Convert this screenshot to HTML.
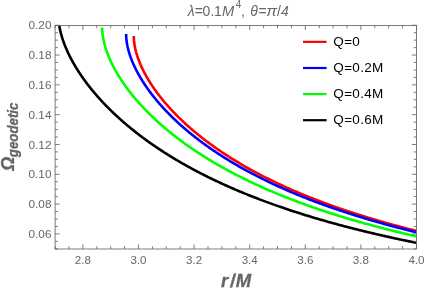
<!DOCTYPE html>
<html><head><meta charset="utf-8"><style>
html,body{margin:0;padding:0;background:#fff;}
body{width:425px;height:291px;overflow:hidden;}
svg{display:block;will-change:transform;font-family:"Liberation Sans",sans-serif;}
</style></head><body>
<svg width="425" height="291" viewBox="0 0 425 291">
<rect x="0" y="0" width="425" height="291" fill="#ffffff"/>
<defs><clipPath id="pc"><rect x="55.10" y="25.45" width="361.40" height="223.55"/></clipPath></defs>
<g clip-path="url(#pc)" fill="none" stroke-width="2.6" stroke-linecap="butt" stroke-linejoin="round">
<path d="M133.79,35.89 L133.79,36.31 L133.79,36.73 L133.80,37.15 L133.82,37.58 L133.83,38.00 L133.85,38.43 L133.87,38.86 L133.90,39.29 L133.93,39.72 L133.96,40.16 L134.00,40.59 L134.04,41.03 L134.09,41.47 L134.14,41.91 L134.19,42.35 L134.24,42.80 L134.30,43.24 L134.36,43.69 L134.43,44.14 L134.50,44.59 L134.57,45.04 L134.65,45.50 L134.73,45.95 L134.81,46.41 L134.90,46.87 L134.99,47.33 L135.08,47.79 L135.18,48.25 L135.28,48.72 L135.39,49.18 L135.49,49.65 L135.61,50.12 L135.72,50.59 L135.84,51.06 L135.96,51.54 L136.09,52.01 L136.22,52.49 L136.35,52.97 L136.49,53.45 L136.63,53.93 L136.77,54.41 L136.92,54.89 L137.07,55.38 L137.23,55.86 L137.38,56.35 L137.54,56.84 L137.71,57.33 L137.88,57.82 L138.05,58.31 L138.23,58.81 L138.41,59.30 L138.59,59.80 L138.78,60.30 L138.97,60.80 L139.16,61.30 L139.36,61.80 L139.56,62.30 L139.76,62.80 L139.97,63.31 L140.18,63.81 L140.40,64.32 L140.61,64.83 L140.84,65.34 L141.06,65.85 L141.29,66.36 L141.52,66.87 L141.76,67.38 L142.00,67.90 L142.24,68.41 L142.49,68.93 L142.74,69.45 L142.99,69.96 L143.25,70.48 L143.51,71.00 L143.78,71.52 L144.04,72.05 L144.32,72.57 L144.59,73.09 L144.87,73.62 L145.15,74.14 L145.44,74.67 L145.73,75.20 L146.02,75.72 L146.32,76.25 L146.62,76.78 L146.92,77.31 L147.23,77.85 L147.54,78.38 L147.85,78.91 L148.17,79.44 L148.49,79.98 L148.82,80.51 L149.15,81.05 L149.48,81.59 L149.81,82.12 L150.15,82.66 L150.50,83.20 L150.84,83.74 L151.19,84.28 L151.55,84.82 L151.90,85.36 L152.26,85.90 L152.63,86.44 L152.99,86.99 L153.37,87.53 L153.74,88.07 L154.12,88.62 L154.50,89.16 L154.89,89.71 L155.27,90.25 L155.67,90.80 L156.06,91.35 L156.46,91.89 L156.87,92.44 L157.27,92.99 L157.68,93.54 L158.10,94.09 L158.51,94.64 L158.93,95.19 L159.36,95.74 L159.79,96.29 L160.22,96.84 L160.65,97.39 L161.09,97.94 L161.53,98.49 L161.98,99.04 L162.43,99.60 L162.88,100.15 L163.34,100.70 L163.80,101.25 L164.26,101.81 L164.73,102.36 L165.20,102.92 L165.67,103.47 L166.15,104.02 L166.63,104.58 L167.12,105.13 L167.61,105.69 L168.10,106.24 L168.59,106.80 L169.09,107.35 L169.59,107.91 L170.10,108.46 L170.61,109.02 L171.12,109.57 L171.64,110.13 L172.16,110.68 L172.68,111.24 L173.21,111.80 L173.74,112.35 L174.28,112.91 L174.82,113.46 L175.36,114.02 L175.90,114.57 L176.45,115.13 L177.00,115.68 L177.56,116.24 L178.12,116.80 L178.68,117.35 L179.25,117.91 L179.82,118.46 L180.39,119.02 L180.97,119.57 L181.55,120.13 L182.13,120.68 L182.72,121.24 L183.31,121.79 L183.91,122.34 L184.51,122.90 L185.11,123.45 L185.71,124.00 L186.32,124.56 L186.94,125.11 L187.55,125.66 L188.17,126.22 L188.80,126.77 L189.42,127.32 L190.05,127.87 L190.69,128.42 L191.32,128.98 L191.96,129.53 L192.61,130.08 L193.26,130.63 L193.91,131.18 L194.56,131.73 L195.22,132.28 L195.89,132.82 L196.55,133.37 L197.22,133.92 L197.89,134.47 L198.57,135.02 L199.25,135.56 L199.93,136.11 L200.62,136.66 L201.31,137.20 L202.01,137.75 L202.71,138.29 L203.41,138.84 L204.11,139.38 L204.82,139.92 L205.53,140.47 L206.25,141.01 L206.97,141.55 L207.69,142.09 L208.42,142.63 L209.15,143.17 L209.88,143.71 L210.62,144.25 L211.36,144.79 L212.10,145.33 L212.85,145.87 L213.60,146.40 L214.35,146.94 L215.11,147.47 L215.87,148.01 L216.64,148.54 L217.41,149.08 L218.18,149.61 L218.96,150.14 L219.74,150.68 L220.52,151.21 L221.31,151.74 L222.10,152.27 L222.89,152.80 L223.69,153.33 L224.49,153.85 L225.29,154.38 L226.10,154.91 L226.91,155.43 L227.73,155.96 L228.55,156.48 L229.37,157.01 L230.19,157.53 L231.02,158.05 L231.86,158.57 L232.69,159.10 L233.53,159.62 L234.38,160.13 L235.22,160.65 L236.07,161.17 L236.93,161.69 L237.79,162.20 L238.65,162.72 L239.51,163.23 L240.38,163.75 L241.25,164.26 L242.13,164.77 L243.01,165.28 L243.89,165.80 L244.78,166.30 L245.67,166.81 L246.56,167.32 L247.46,167.83 L248.36,168.34 L249.26,168.84 L250.17,169.35 L251.08,169.85 L251.99,170.35 L252.91,170.85 L253.83,171.35 L254.76,171.85 L255.69,172.35 L256.62,172.85 L257.55,173.35 L258.49,173.85 L259.44,174.34 L260.38,174.84 L261.33,175.33 L262.29,175.82 L263.24,176.32 L264.21,176.81 L265.17,177.30 L266.14,177.79 L267.11,178.27 L268.08,178.76 L269.06,179.25 L270.04,179.73 L271.03,180.22 L272.02,180.70 L273.01,181.18 L274.01,181.66 L275.01,182.14 L276.01,182.62 L277.02,183.10 L278.03,183.58 L279.04,184.06 L280.06,184.53 L281.08,185.01 L282.11,185.48 L283.13,185.95 L284.17,186.42 L285.20,186.89 L286.24,187.36 L287.28,187.83 L288.33,188.30 L289.38,188.76 L290.43,189.23 L291.49,189.69 L292.55,190.16 L293.61,190.62 L294.68,191.08 L295.75,191.54 L296.82,192.00 L297.90,192.46 L298.98,192.91 L300.07,193.37 L301.16,193.82 L302.25,194.28 L303.34,194.73 L304.44,195.18 L305.55,195.63 L306.65,196.08 L307.76,196.53 L308.88,196.98 L309.99,197.42 L311.11,197.87 L312.24,198.31 L313.37,198.75 L314.50,199.20 L315.63,199.64 L316.77,200.08 L317.91,200.51 L319.06,200.95 L320.21,201.39 L321.36,201.82 L322.51,202.26 L323.67,202.69 L324.84,203.12 L326.00,203.55 L327.17,203.98 L328.35,204.41 L329.53,204.84 L330.71,205.26 L331.89,205.69 L333.08,206.11 L334.27,206.54 L335.47,206.96 L336.66,207.38 L337.87,207.80 L339.07,208.22 L340.28,208.63 L341.49,209.05 L342.71,209.47 L343.93,209.88 L345.15,210.29 L346.38,210.71 L347.61,211.12 L348.85,211.53 L350.08,211.93 L351.33,212.34 L352.57,212.75 L353.82,213.15 L355.07,213.56 L356.33,213.96 L357.59,214.36 L358.85,214.76 L360.11,215.16 L361.38,215.56 L362.66,215.96 L363.93,216.35 L365.21,216.75 L366.50,217.14 L367.79,217.53 L369.08,217.92 L370.37,218.31 L371.67,218.70 L372.97,219.09 L374.28,219.48 L375.59,219.86 L376.90,220.25 L378.21,220.63 L379.53,221.02 L380.86,221.40 L382.18,221.78 L383.51,222.16 L384.85,222.53 L386.18,222.91 L387.52,223.29 L388.87,223.66 L390.22,224.03 L391.57,224.41 L392.92,224.78 L394.28,225.15 L395.64,225.52 L397.01,225.88 L398.38,226.25 L399.75,226.62 L401.13,226.98 L402.51,227.34 L403.89,227.71 L405.28,228.07 L406.67,228.43 L408.06,228.79 L409.46,229.14 L410.86,229.50 L412.26,229.86 L413.67,230.21 L415.08,230.56 L416.50,230.92" stroke="#ff0000"/>
<path d="M126.13,33.91 L126.13,34.34 L126.14,34.77 L126.15,35.20 L126.16,35.63 L126.17,36.06 L126.19,36.50 L126.22,36.94 L126.25,37.38 L126.28,37.82 L126.31,38.26 L126.35,38.71 L126.39,39.15 L126.44,39.60 L126.49,40.05 L126.54,40.50 L126.60,40.96 L126.66,41.41 L126.72,41.87 L126.79,42.33 L126.86,42.79 L126.93,43.25 L127.01,43.72 L127.09,44.18 L127.18,44.65 L127.27,45.12 L127.36,45.59 L127.46,46.06 L127.56,46.53 L127.66,47.01 L127.77,47.48 L127.88,47.96 L128.00,48.44 L128.12,48.92 L128.24,49.41 L128.36,49.89 L128.49,50.38 L128.63,50.86 L128.76,51.35 L128.90,51.84 L129.05,52.33 L129.20,52.83 L129.35,53.32 L129.50,53.81 L129.66,54.31 L129.82,54.81 L129.99,55.31 L130.16,55.81 L130.33,56.31 L130.51,56.82 L130.69,57.32 L130.87,57.83 L131.06,58.34 L131.25,58.84 L131.45,59.35 L131.65,59.87 L131.85,60.38 L132.06,60.89 L132.26,61.41 L132.48,61.92 L132.70,62.44 L132.92,62.96 L133.14,63.48 L133.37,64.00 L133.60,64.52 L133.84,65.04 L134.07,65.57 L134.32,66.09 L134.56,66.62 L134.81,67.14 L135.07,67.67 L135.32,68.20 L135.58,68.73 L135.85,69.26 L136.12,69.79 L136.39,70.33 L136.66,70.86 L136.94,71.40 L137.23,71.93 L137.51,72.47 L137.80,73.01 L138.10,73.54 L138.39,74.08 L138.69,74.62 L139.00,75.17 L139.31,75.71 L139.62,76.25 L139.93,76.79 L140.25,77.34 L140.58,77.88 L140.90,78.43 L141.23,78.97 L141.57,79.52 L141.90,80.07 L142.25,80.62 L142.59,81.17 L142.94,81.72 L143.29,82.27 L143.65,82.82 L144.01,83.37 L144.37,83.93 L144.74,84.48 L145.11,85.03 L145.48,85.59 L145.86,86.14 L146.24,86.70 L146.62,87.25 L147.01,87.81 L147.40,88.37 L147.80,88.92 L148.20,89.48 L148.60,90.04 L149.01,90.60 L149.42,91.16 L149.83,91.72 L150.25,92.28 L150.67,92.84 L151.10,93.40 L151.53,93.96 L151.96,94.53 L152.39,95.09 L152.83,95.65 L153.28,96.22 L153.72,96.78 L154.17,97.34 L154.63,97.91 L155.09,98.47 L155.55,99.04 L156.01,99.60 L156.48,100.17 L156.95,100.73 L157.43,101.30 L157.91,101.86 L158.39,102.43 L158.88,102.99 L159.37,103.56 L159.86,104.13 L160.36,104.69 L160.86,105.26 L161.37,105.83 L161.88,106.39 L162.39,106.96 L162.91,107.53 L163.43,108.10 L163.95,108.66 L164.48,109.23 L165.01,109.80 L165.54,110.37 L166.08,110.93 L166.62,111.50 L167.17,112.07 L167.72,112.64 L168.27,113.20 L168.83,113.77 L169.39,114.34 L169.95,114.91 L170.52,115.47 L171.09,116.04 L171.66,116.61 L172.24,117.18 L172.82,117.74 L173.41,118.31 L174.00,118.88 L174.59,119.44 L175.19,120.01 L175.79,120.57 L176.39,121.14 L177.00,121.71 L177.61,122.27 L178.22,122.84 L178.84,123.40 L179.46,123.97 L180.09,124.53 L180.72,125.10 L181.35,125.66 L181.99,126.22 L182.63,126.79 L183.27,127.35 L183.92,127.91 L184.57,128.48 L185.22,129.04 L185.88,129.60 L186.54,130.16 L187.21,130.72 L187.88,131.28 L188.55,131.84 L189.23,132.40 L189.91,132.96 L190.59,133.52 L191.28,134.08 L191.97,134.64 L192.67,135.20 L193.37,135.76 L194.07,136.31 L194.77,136.87 L195.48,137.43 L196.20,137.98 L196.91,138.54 L197.63,139.09 L198.36,139.65 L199.09,140.20 L199.82,140.75 L200.55,141.30 L201.29,141.86 L202.03,142.41 L202.78,142.96 L203.53,143.51 L204.28,144.06 L205.04,144.61 L205.80,145.16 L206.56,145.70 L207.33,146.25 L208.10,146.80 L208.88,147.34 L209.66,147.89 L210.44,148.44 L211.23,148.98 L212.02,149.52 L212.81,150.07 L213.61,150.61 L214.41,151.15 L215.21,151.69 L216.02,152.23 L216.83,152.77 L217.65,153.31 L218.47,153.85 L219.29,154.38 L220.11,154.92 L220.94,155.46 L221.78,155.99 L222.61,156.52 L223.46,157.06 L224.30,157.59 L225.15,158.12 L226.00,158.65 L226.86,159.18 L227.71,159.71 L228.58,160.24 L229.44,160.77 L230.31,161.30 L231.19,161.82 L232.06,162.35 L232.95,162.87 L233.83,163.40 L234.72,163.92 L235.61,164.44 L236.51,164.96 L237.41,165.48 L238.31,166.00 L239.21,166.52 L240.12,167.04 L241.04,167.56 L241.96,168.07 L242.88,168.59 L243.80,169.10 L244.73,169.61 L245.66,170.13 L246.60,170.64 L247.54,171.15 L248.48,171.66 L249.43,172.17 L250.38,172.67 L251.33,173.18 L252.29,173.69 L253.25,174.19 L254.21,174.69 L255.18,175.20 L256.16,175.70 L257.13,176.20 L258.11,176.70 L259.09,177.20 L260.08,177.70 L261.07,178.19 L262.06,178.69 L263.06,179.18 L264.06,179.68 L265.07,180.17 L266.08,180.66 L267.09,181.15 L268.11,181.64 L269.13,182.13 L270.15,182.62 L271.18,183.11 L272.21,183.59 L273.24,184.08 L274.28,184.56 L275.32,185.04 L276.36,185.53 L277.41,186.01 L278.47,186.49 L279.52,186.96 L280.58,187.44 L281.64,187.92 L282.71,188.39 L283.78,188.87 L284.86,189.34 L285.93,189.81 L287.02,190.28 L288.10,190.75 L289.19,191.22 L290.28,191.69 L291.38,192.15 L292.48,192.62 L293.58,193.08 L294.69,193.55 L295.80,194.01 L296.91,194.47 L298.03,194.93 L299.15,195.39 L300.28,195.85 L301.41,196.30 L302.54,196.76 L303.68,197.21 L304.82,197.66 L305.96,198.12 L307.11,198.57 L308.26,199.02 L309.41,199.47 L310.57,199.91 L311.73,200.36 L312.90,200.80 L314.07,201.25 L315.24,201.69 L316.42,202.13 L317.60,202.57 L318.78,203.01 L319.97,203.45 L321.16,203.89 L322.35,204.32 L323.55,204.76 L324.75,205.19 L325.96,205.63 L327.17,206.06 L328.38,206.49 L329.60,206.92 L330.82,207.34 L332.04,207.77 L333.27,208.20 L334.50,208.62 L335.74,209.04 L336.98,209.47 L338.22,209.89 L339.46,210.31 L340.71,210.72 L341.97,211.14 L343.22,211.56 L344.48,211.97 L345.75,212.39 L347.01,212.80 L348.29,213.21 L349.56,213.62 L350.84,214.03 L352.12,214.44 L353.41,214.85 L354.70,215.25 L355.99,215.66 L357.29,216.06 L358.59,216.46 L359.89,216.86 L361.20,217.26 L362.51,217.66 L363.83,218.06 L365.14,218.46 L366.47,218.85 L367.79,219.24 L369.12,219.64 L370.46,220.03 L371.79,220.42 L373.13,220.81 L374.48,221.20 L375.82,221.58 L377.18,221.97 L378.53,222.35 L379.89,222.74 L381.25,223.12 L382.62,223.50 L383.99,223.88 L385.36,224.26 L386.74,224.64 L388.12,225.01 L389.50,225.39 L390.89,225.76 L392.28,226.14 L393.68,226.51 L395.08,226.88 L396.48,227.25 L397.89,227.62 L399.30,227.98 L400.71,228.35 L402.13,228.71 L403.55,229.08 L404.97,229.44 L406.40,229.80 L407.83,230.16 L409.27,230.52 L410.71,230.88 L412.15,231.24 L413.60,231.59 L415.05,231.95 L416.50,232.30" stroke="#0000ff"/>
<path d="M102.20,27.59 L102.20,28.04 L102.21,28.49 L102.22,28.95 L102.23,29.41 L102.25,29.87 L102.27,30.33 L102.30,30.80 L102.33,31.27 L102.36,31.74 L102.40,32.21 L102.44,32.68 L102.49,33.15 L102.54,33.63 L102.59,34.11 L102.65,34.59 L102.71,35.08 L102.77,35.56 L102.84,36.05 L102.92,36.54 L102.99,37.03 L103.07,37.52 L103.16,38.01 L103.25,38.51 L103.34,39.01 L103.44,39.51 L103.54,40.01 L103.64,40.51 L103.75,41.02 L103.86,41.52 L103.98,42.03 L104.10,42.54 L104.22,43.05 L104.35,43.57 L104.48,44.08 L104.62,44.60 L104.76,45.12 L104.91,45.64 L105.05,46.16 L105.21,46.68 L105.36,47.21 L105.52,47.73 L105.68,48.26 L105.85,48.79 L106.02,49.32 L106.20,49.85 L106.38,50.39 L106.56,50.92 L106.75,51.46 L106.94,52.00 L107.14,52.54 L107.34,53.08 L107.54,53.62 L107.75,54.17 L107.96,54.71 L108.17,55.26 L108.39,55.81 L108.62,56.36 L108.84,56.91 L109.07,57.46 L109.31,58.01 L109.55,58.57 L109.79,59.12 L110.04,59.68 L110.29,60.24 L110.54,60.80 L110.80,61.36 L111.06,61.92 L111.33,62.48 L111.60,63.05 L111.88,63.61 L112.15,64.18 L112.44,64.74 L112.72,65.31 L113.01,65.88 L113.31,66.45 L113.61,67.02 L113.91,67.60 L114.21,68.17 L114.52,68.74 L114.84,69.32 L115.16,69.90 L115.48,70.47 L115.80,71.05 L116.13,71.63 L116.47,72.21 L116.80,72.79 L117.15,73.37 L117.49,73.95 L117.84,74.54 L118.19,75.12 L118.55,75.71 L118.91,76.29 L119.28,76.88 L119.65,77.47 L120.02,78.05 L120.40,78.64 L120.78,79.23 L121.16,79.82 L121.55,80.41 L121.94,81.00 L122.34,81.60 L122.74,82.19 L123.15,82.78 L123.56,83.37 L123.97,83.97 L124.38,84.56 L124.81,85.16 L125.23,85.75 L125.66,86.35 L126.09,86.95 L126.53,87.55 L126.97,88.14 L127.41,88.74 L127.86,89.34 L128.31,89.94 L128.77,90.54 L129.23,91.14 L129.69,91.74 L130.16,92.34 L130.63,92.94 L131.11,93.54 L131.59,94.14 L132.07,94.75 L132.56,95.35 L133.05,95.95 L133.55,96.55 L134.04,97.16 L134.55,97.76 L135.06,98.36 L135.57,98.97 L136.08,99.57 L136.60,100.17 L137.12,100.78 L137.65,101.38 L138.18,101.99 L138.72,102.59 L139.26,103.20 L139.80,103.80 L140.35,104.41 L140.90,105.01 L141.45,105.62 L142.01,106.22 L142.57,106.83 L143.14,107.43 L143.71,108.04 L144.28,108.64 L144.86,109.25 L145.45,109.85 L146.03,110.46 L146.62,111.06 L147.22,111.66 L147.81,112.27 L148.42,112.87 L149.02,113.48 L149.63,114.08 L150.25,114.69 L150.86,115.29 L151.49,115.89 L152.11,116.50 L152.74,117.10 L153.38,117.70 L154.01,118.31 L154.66,118.91 L155.30,119.51 L155.95,120.11 L156.60,120.72 L157.26,121.32 L157.92,121.92 L158.59,122.52 L159.26,123.12 L159.93,123.72 L160.61,124.32 L161.29,124.92 L161.97,125.52 L162.66,126.12 L163.36,126.71 L164.05,127.31 L164.75,127.91 L165.46,128.51 L166.17,129.10 L166.88,129.70 L167.60,130.30 L168.32,130.89 L169.04,131.49 L169.77,132.08 L170.50,132.67 L171.24,133.27 L171.98,133.86 L172.72,134.45 L173.47,135.04 L174.22,135.63 L174.98,136.22 L175.74,136.81 L176.50,137.40 L177.27,137.99 L178.04,138.58 L178.82,139.17 L179.60,139.76 L180.38,140.34 L181.17,140.93 L181.96,141.51 L182.76,142.10 L183.56,142.68 L184.36,143.26 L185.17,143.84 L185.98,144.43 L186.80,145.01 L187.61,145.59 L188.44,146.17 L189.27,146.74 L190.10,147.32 L190.93,147.90 L191.77,148.47 L192.61,149.05 L193.46,149.62 L194.31,150.20 L195.17,150.77 L196.03,151.34 L196.89,151.91 L197.75,152.49 L198.63,153.05 L199.50,153.62 L200.38,154.19 L201.26,154.76 L202.15,155.33 L203.04,155.89 L203.93,156.45 L204.83,157.02 L205.73,157.58 L206.64,158.14 L207.55,158.70 L208.46,159.26 L209.38,159.82 L210.30,160.38 L211.23,160.94 L212.16,161.49 L213.09,162.05 L214.03,162.60 L214.97,163.16 L215.92,163.71 L216.87,164.26 L217.82,164.81 L218.78,165.36 L219.74,165.91 L220.70,166.45 L221.67,167.00 L222.65,167.55 L223.62,168.09 L224.61,168.63 L225.59,169.18 L226.58,169.72 L227.57,170.26 L228.57,170.80 L229.57,171.33 L230.58,171.87 L231.58,172.41 L232.60,172.94 L233.61,173.47 L234.63,174.01 L235.66,174.54 L236.69,175.07 L237.72,175.60 L238.76,176.12 L239.80,176.65 L240.84,177.18 L241.89,177.70 L242.94,178.23 L244.00,178.75 L245.06,179.27 L246.12,179.79 L247.19,180.31 L248.26,180.83 L249.34,181.34 L250.42,181.86 L251.50,182.37 L252.59,182.88 L253.68,183.40 L254.78,183.91 L255.88,184.42 L256.98,184.92 L258.09,185.43 L259.20,185.94 L260.32,186.44 L261.43,186.95 L262.56,187.45 L263.69,187.95 L264.82,188.45 L265.95,188.95 L267.09,189.45 L268.23,189.94 L269.38,190.44 L270.53,190.93 L271.69,191.42 L272.85,191.91 L274.01,192.40 L275.18,192.89 L276.35,193.38 L277.52,193.87 L278.70,194.35 L279.88,194.84 L281.07,195.32 L282.26,195.80 L283.45,196.28 L284.65,196.76 L285.85,197.24 L287.06,197.71 L288.27,198.19 L289.48,198.66 L290.70,199.13 L291.92,199.61 L293.15,200.08 L294.38,200.54 L295.61,201.01 L296.85,201.48 L298.09,201.94 L299.34,202.41 L300.59,202.87 L301.84,203.33 L303.10,203.79 L304.36,204.25 L305.63,204.70 L306.90,205.16 L308.17,205.61 L309.45,206.07 L310.73,206.52 L312.01,206.97 L313.30,207.42 L314.60,207.87 L315.89,208.31 L317.19,208.76 L318.50,209.20 L319.81,209.65 L321.12,210.09 L322.44,210.53 L323.76,210.97 L325.08,211.40 L326.41,211.84 L327.75,212.28 L329.08,212.71 L330.42,213.14 L331.77,213.57 L333.11,214.00 L334.47,214.43 L335.82,214.86 L337.18,215.28 L338.55,215.71 L339.92,216.13 L341.29,216.55 L342.66,216.97 L344.04,217.39 L345.43,217.81 L346.82,218.23 L348.21,218.64 L349.60,219.06 L351.00,219.47 L352.41,219.88 L353.81,220.29 L355.23,220.70 L356.64,221.11 L358.06,221.52 L359.48,221.92 L360.91,222.32 L362.34,222.73 L363.78,223.13 L365.22,223.53 L366.66,223.93 L368.11,224.32 L369.56,224.72 L371.01,225.11 L372.47,225.51 L373.94,225.90 L375.40,226.29 L376.87,226.68 L378.35,227.07 L379.83,227.45 L381.31,227.84 L382.80,228.22 L384.29,228.61 L385.78,228.99 L387.28,229.37 L388.78,229.75 L390.29,230.13 L391.80,230.50 L393.31,230.88 L394.83,231.25 L396.35,231.62 L397.88,232.00 L399.41,232.37 L400.94,232.74 L402.48,233.10 L404.02,233.47 L405.57,233.83 L407.12,234.20 L408.67,234.56 L410.23,234.92 L411.79,235.28 L413.36,235.64 L414.93,236.00 L416.50,236.35" stroke="#00ff00"/>
<path d="M59.25,25.45 L59.32,25.91 L59.41,26.46 L59.51,27.01 L59.61,27.56 L59.72,28.12 L59.83,28.67 L59.94,29.23 L60.06,29.79 L60.18,30.35 L60.31,30.92 L60.45,31.48 L60.58,32.05 L60.72,32.62 L60.87,33.20 L61.02,33.77 L61.18,34.35 L61.34,34.93 L61.50,35.51 L61.67,36.09 L61.84,36.67 L62.02,37.26 L62.20,37.85 L62.39,38.44 L62.58,39.03 L62.78,39.62 L62.98,40.22 L63.18,40.81 L63.39,41.41 L63.60,42.01 L63.82,42.62 L64.04,43.22 L64.27,43.83 L64.50,44.43 L64.74,45.04 L64.98,45.65 L65.23,46.26 L65.47,46.88 L65.73,47.49 L65.99,48.11 L66.25,48.73 L66.52,49.35 L66.79,49.97 L67.07,50.59 L67.35,51.21 L67.63,51.84 L67.92,52.46 L68.22,53.09 L68.52,53.72 L68.82,54.35 L69.13,54.98 L69.44,55.62 L69.76,56.25 L70.08,56.89 L70.41,57.52 L70.74,58.16 L71.07,58.80 L71.41,59.44 L71.76,60.08 L72.11,60.72 L72.46,61.37 L72.82,62.01 L73.18,62.66 L73.54,63.31 L73.92,63.95 L74.29,64.60 L74.67,65.25 L75.06,65.90 L75.45,66.56 L75.84,67.21 L76.24,67.86 L76.64,68.52 L77.05,69.17 L77.46,69.83 L77.87,70.48 L78.30,71.14 L78.72,71.80 L79.15,72.46 L79.58,73.12 L80.02,73.78 L80.47,74.44 L80.91,75.11 L81.37,75.77 L81.82,76.43 L82.28,77.10 L82.75,77.76 L83.22,78.43 L83.69,79.09 L84.17,79.76 L84.66,80.43 L85.14,81.09 L85.64,81.76 L86.13,82.43 L86.64,83.10 L87.14,83.77 L87.65,84.44 L88.17,85.11 L88.69,85.78 L89.21,86.45 L89.74,87.12 L90.27,87.79 L90.81,88.46 L91.35,89.14 L91.90,89.81 L92.45,90.48 L93.01,91.15 L93.57,91.83 L94.13,92.50 L94.70,93.17 L95.27,93.85 L95.85,94.52 L96.43,95.19 L97.02,95.87 L97.61,96.54 L98.21,97.22 L98.81,97.89 L99.41,98.57 L100.02,99.24 L100.64,99.91 L101.26,100.59 L101.88,101.26 L102.51,101.94 L103.14,102.61 L103.77,103.28 L104.42,103.96 L105.06,104.63 L105.71,105.31 L106.37,105.98 L107.02,106.65 L107.69,107.33 L108.36,108.00 L109.03,108.67 L109.71,109.34 L110.39,110.02 L111.07,110.69 L111.76,111.36 L112.46,112.03 L113.16,112.70 L113.86,113.37 L114.57,114.04 L115.28,114.71 L116.00,115.38 L116.72,116.05 L117.45,116.72 L118.18,117.39 L118.92,118.06 L119.66,118.72 L120.40,119.39 L121.15,120.06 L121.90,120.72 L122.66,121.39 L123.42,122.05 L124.19,122.72 L124.96,123.38 L125.74,124.05 L126.52,124.71 L127.30,125.37 L128.09,126.03 L128.89,126.69 L129.69,127.35 L130.49,128.01 L131.30,128.67 L132.11,129.33 L132.92,129.99 L133.75,130.64 L134.57,131.30 L135.40,131.95 L136.24,132.61 L137.07,133.26 L137.92,133.92 L138.77,134.57 L139.62,135.22 L140.48,135.87 L141.34,136.52 L142.20,137.17 L143.07,137.82 L143.95,138.47 L144.83,139.11 L145.71,139.76 L146.60,140.40 L147.49,141.05 L148.39,141.69 L149.29,142.33 L150.20,142.97 L151.11,143.61 L152.02,144.25 L152.94,144.89 L153.87,145.53 L154.80,146.16 L155.73,146.80 L156.67,147.43 L157.61,148.06 L158.56,148.70 L159.51,149.33 L160.47,149.96 L161.43,150.59 L162.39,151.21 L163.36,151.84 L164.33,152.47 L165.31,153.09 L166.30,153.71 L167.28,154.34 L168.28,154.96 L169.27,155.58 L170.27,156.20 L171.28,156.81 L172.29,157.43 L173.30,158.05 L174.32,158.66 L175.34,159.27 L176.37,159.89 L177.41,160.50 L178.44,161.11 L179.48,161.71 L180.53,162.32 L181.58,162.93 L182.63,163.53 L183.69,164.13 L184.76,164.74 L185.83,165.34 L186.90,165.94 L187.98,166.53 L189.06,167.13 L190.14,167.73 L191.24,168.32 L192.33,168.91 L193.43,169.51 L194.54,170.10 L195.64,170.68 L196.76,171.27 L197.88,171.86 L199.00,172.44 L200.12,173.03 L201.26,173.61 L202.39,174.19 L203.53,174.77 L204.68,175.35 L205.83,175.92 L206.98,176.50 L208.14,177.07 L209.30,177.65 L210.47,178.22 L211.64,178.79 L212.82,179.35 L214.00,179.92 L215.18,180.49 L216.37,181.05 L217.57,181.61 L218.77,182.17 L219.97,182.73 L221.18,183.29 L222.39,183.85 L223.61,184.40 L224.83,184.96 L226.05,185.51 L227.28,186.06 L228.52,186.61 L229.76,187.16 L231.00,187.70 L232.25,188.25 L233.50,188.79 L234.76,189.33 L236.02,189.87 L237.29,190.41 L238.56,190.95 L239.83,191.49 L241.11,192.02 L242.40,192.55 L243.69,193.09 L244.98,193.62 L246.28,194.14 L247.58,194.67 L248.89,195.20 L250.20,195.72 L251.51,196.24 L252.84,196.76 L254.16,197.28 L255.49,197.80 L256.82,198.32 L258.16,198.83 L259.50,199.34 L260.85,199.85 L262.20,200.36 L263.56,200.87 L264.92,201.38 L266.29,201.89 L267.66,202.39 L269.03,202.89 L270.41,203.39 L271.79,203.89 L273.18,204.39 L274.57,204.88 L275.97,205.38 L277.37,205.87 L278.78,206.36 L280.19,206.85 L281.60,207.34 L283.02,207.83 L284.44,208.31 L285.87,208.80 L287.30,209.28 L288.74,209.76 L290.18,210.24 L291.63,210.71 L293.08,211.19 L294.54,211.66 L296.00,212.14 L297.46,212.61 L298.93,213.08 L300.40,213.54 L301.88,214.01 L303.36,214.48 L304.85,214.94 L306.34,215.40 L307.84,215.86 L309.34,216.32 L310.84,216.77 L312.35,217.23 L313.86,217.68 L315.38,218.14 L316.90,218.59 L318.43,219.04 L319.96,219.48 L321.50,219.93 L323.04,220.37 L324.59,220.82 L326.14,221.26 L327.69,221.70 L329.25,222.14 L330.81,222.57 L332.38,223.01 L333.95,223.44 L335.53,223.87 L337.11,224.30 L338.69,224.73 L340.29,225.16 L341.88,225.58 L343.48,226.01 L345.08,226.43 L346.69,226.85 L348.30,227.27 L349.92,227.69 L351.54,228.11 L353.17,228.52 L354.80,228.94 L356.43,229.35 L358.07,229.76 L359.72,230.17 L361.37,230.57 L363.02,230.98 L364.68,231.38 L366.34,231.79 L368.01,232.19 L369.68,232.59 L371.35,232.99 L373.03,233.38 L374.72,233.78 L376.41,234.17 L378.10,234.57 L379.80,234.96 L381.50,235.35 L383.21,235.73 L384.92,236.12 L386.64,236.50 L388.36,236.89 L390.08,237.27 L391.81,237.65 L393.55,238.03 L395.29,238.41 L397.03,238.78 L398.78,239.16 L400.53,239.53 L402.28,239.90 L404.05,240.27 L405.81,240.64 L407.58,241.01 L409.36,241.37 L411.14,241.74 L412.92,242.10 L414.71,242.46 L416.50,242.82" stroke="#000000"/>
</g>
<g stroke="#666666" stroke-width="0.85" fill="none">
<rect x="55.10" y="25.45" width="361.40" height="223.55"/>
<path d="M55.10,249.00v-2.80 M55.10,25.45v2.80"/>
<path d="M69.00,249.00v-2.80 M69.00,25.45v2.80"/>
<path d="M82.90,249.00v-4.60 M82.90,25.45v4.60"/>
<path d="M96.80,249.00v-2.80 M96.80,25.45v2.80"/>
<path d="M110.70,249.00v-2.80 M110.70,25.45v2.80"/>
<path d="M124.60,249.00v-2.80 M124.60,25.45v2.80"/>
<path d="M138.50,249.00v-4.60 M138.50,25.45v4.60"/>
<path d="M152.40,249.00v-2.80 M152.40,25.45v2.80"/>
<path d="M166.30,249.00v-2.80 M166.30,25.45v2.80"/>
<path d="M180.20,249.00v-2.80 M180.20,25.45v2.80"/>
<path d="M194.10,249.00v-4.60 M194.10,25.45v4.60"/>
<path d="M208.00,249.00v-2.80 M208.00,25.45v2.80"/>
<path d="M221.90,249.00v-2.80 M221.90,25.45v2.80"/>
<path d="M235.80,249.00v-2.80 M235.80,25.45v2.80"/>
<path d="M249.70,249.00v-4.60 M249.70,25.45v4.60"/>
<path d="M263.60,249.00v-2.80 M263.60,25.45v2.80"/>
<path d="M277.50,249.00v-2.80 M277.50,25.45v2.80"/>
<path d="M291.40,249.00v-2.80 M291.40,25.45v2.80"/>
<path d="M305.30,249.00v-4.60 M305.30,25.45v4.60"/>
<path d="M319.20,249.00v-2.80 M319.20,25.45v2.80"/>
<path d="M333.10,249.00v-2.80 M333.10,25.45v2.80"/>
<path d="M347.00,249.00v-2.80 M347.00,25.45v2.80"/>
<path d="M360.90,249.00v-4.60 M360.90,25.45v4.60"/>
<path d="M374.80,249.00v-2.80 M374.80,25.45v2.80"/>
<path d="M388.70,249.00v-2.80 M388.70,25.45v2.80"/>
<path d="M402.60,249.00v-2.80 M402.60,25.45v2.80"/>
<path d="M416.50,249.00v-4.60 M416.50,25.45v4.60"/>
<path d="M55.10,248.80h2.80 M416.50,248.80h-2.80"/>
<path d="M55.10,241.35h2.80 M416.50,241.35h-2.80"/>
<path d="M55.10,233.90h4.60 M416.50,233.90h-4.60"/>
<path d="M55.10,226.45h2.80 M416.50,226.45h-2.80"/>
<path d="M55.10,218.99h2.80 M416.50,218.99h-2.80"/>
<path d="M55.10,211.54h2.80 M416.50,211.54h-2.80"/>
<path d="M55.10,204.09h4.60 M416.50,204.09h-4.60"/>
<path d="M55.10,196.64h2.80 M416.50,196.64h-2.80"/>
<path d="M55.10,189.19h2.80 M416.50,189.19h-2.80"/>
<path d="M55.10,181.74h2.80 M416.50,181.74h-2.80"/>
<path d="M55.10,174.28h4.60 M416.50,174.28h-4.60"/>
<path d="M55.10,166.83h2.80 M416.50,166.83h-2.80"/>
<path d="M55.10,159.38h2.80 M416.50,159.38h-2.80"/>
<path d="M55.10,151.93h2.80 M416.50,151.93h-2.80"/>
<path d="M55.10,144.48h4.60 M416.50,144.48h-4.60"/>
<path d="M55.10,137.03h2.80 M416.50,137.03h-2.80"/>
<path d="M55.10,129.57h2.80 M416.50,129.57h-2.80"/>
<path d="M55.10,122.12h2.80 M416.50,122.12h-2.80"/>
<path d="M55.10,114.67h4.60 M416.50,114.67h-4.60"/>
<path d="M55.10,107.22h2.80 M416.50,107.22h-2.80"/>
<path d="M55.10,99.77h2.80 M416.50,99.77h-2.80"/>
<path d="M55.10,92.32h2.80 M416.50,92.32h-2.80"/>
<path d="M55.10,84.86h4.60 M416.50,84.86h-4.60"/>
<path d="M55.10,77.41h2.80 M416.50,77.41h-2.80"/>
<path d="M55.10,69.96h2.80 M416.50,69.96h-2.80"/>
<path d="M55.10,62.51h2.80 M416.50,62.51h-2.80"/>
<path d="M55.10,55.06h4.60 M416.50,55.06h-4.60"/>
<path d="M55.10,47.61h2.80 M416.50,47.61h-2.80"/>
<path d="M55.10,40.15h2.80 M416.50,40.15h-2.80"/>
<path d="M55.10,32.70h2.80 M416.50,32.70h-2.80"/>
<path d="M55.10,25.25h4.60 M416.50,25.25h-4.60"/>
</g>
<g fill="#666666" font-size="11.8px">
<text x="82.90" y="263.7" text-anchor="middle" font-size="11.6px">2.8</text>
<text x="138.50" y="263.7" text-anchor="middle" font-size="11.6px">3.0</text>
<text x="194.10" y="263.7" text-anchor="middle" font-size="11.6px">3.2</text>
<text x="249.70" y="263.7" text-anchor="middle" font-size="11.6px">3.4</text>
<text x="305.30" y="263.7" text-anchor="middle" font-size="11.6px">3.6</text>
<text x="360.90" y="263.7" text-anchor="middle" font-size="11.6px">3.8</text>
<text x="416.50" y="263.7" text-anchor="middle" font-size="11.6px">4.0</text>
<text x="51.5" y="238.10" text-anchor="end">0.06</text>
<text x="51.5" y="208.29" text-anchor="end">0.08</text>
<text x="51.5" y="178.48" text-anchor="end">0.10</text>
<text x="51.5" y="148.68" text-anchor="end">0.12</text>
<text x="51.5" y="118.87" text-anchor="end">0.14</text>
<text x="51.5" y="89.06" text-anchor="end">0.16</text>
<text x="51.5" y="59.26" text-anchor="end">0.18</text>
<text x="51.5" y="29.45" text-anchor="end">0.20</text>
</g>
<g fill="#666666"><text x="187.84" y="16.00" font-size="14.0px" font-style="italic">λ</text><text x="194.82" y="16.00" font-size="14.0px">=</text><text x="202.45" y="16.00" font-size="14.0px">0</text><text x="210.52" y="16.00" font-size="14.0px">.</text><text x="214.03" y="16.00" font-size="14.0px">1</text><text transform="translate(222.05,16.00) scale(1.050,1)" font-size="14.0px" font-style="italic">M</text><text x="235.77" y="8.40" font-size="10.0px">4</text><text x="240.94" y="16.00" font-size="14.0px">,</text><text x="250.31" y="16.00" font-size="14.0px" font-style="italic">θ</text><text x="258.42" y="16.00" font-size="14.0px">=</text><text transform="translate(266.28,16.00) scale(1.150,1)" font-size="14.0px" font-style="italic">π</text><text x="276.90" y="16.00" font-size="14.0px">/</text><text x="281.11" y="16.00" font-size="14.0px" font-style="italic">4</text></g>
<g fill="#666666" stroke="#666666" stroke-width="0.3" font-weight="bold" font-style="italic" font-size="18.5px"><text x="220.88" y="287.2">r</text><text transform="translate(229.8,287.2) skewX(-6)" font-style="normal">/</text><text x="235.87" y="287.2">M</text></g>
<g fill="#666666" stroke="#666666" stroke-width="0.3" font-weight="bold" font-style="italic"><text transform="translate(13.75,170.7) rotate(-90)" font-size="18px">Ω</text><text transform="translate(17.5,157.2) rotate(-90) scale(1,1.14)" font-size="13.3px">geodetic</text></g>
<g stroke-width="2.2" fill="none">
<path d="M303,41.85H326.6" stroke="#ff0000"/>
<path d="M303,68.0H326.6" stroke="#0000ff"/>
<path d="M303,94.1H326.6" stroke="#00ff00"/>
<path d="M303,120.2H326.6" stroke="#000000"/>
</g>
<g fill="#000000" font-size="13.5px" letter-spacing="0.33">
<text x="333.3" y="45.6">Q=0</text>
<text x="333.3" y="71.8">Q=0.2M</text>
<text x="333.3" y="97.9">Q=0.4M</text>
<text x="333.3" y="124.1">Q=0.6M</text>
</g>
</svg>
</body></html>
